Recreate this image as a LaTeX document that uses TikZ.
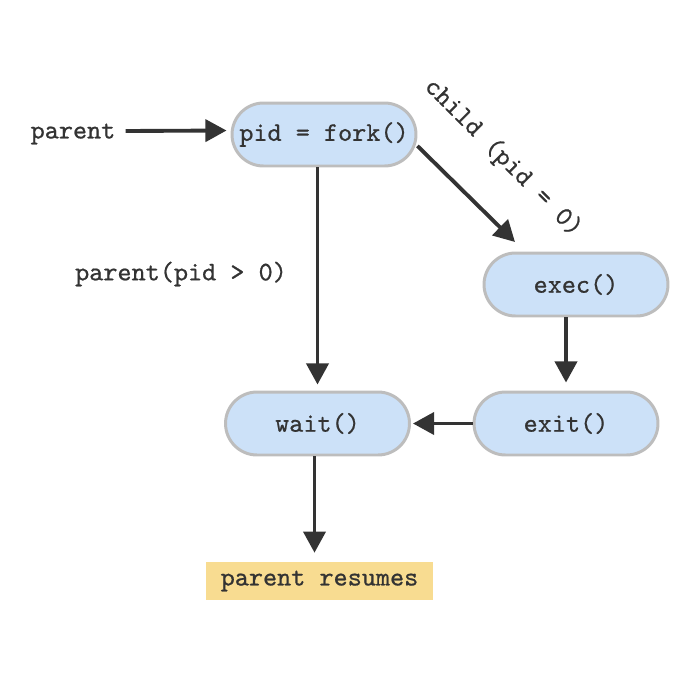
\documentclass[tikz,border=0pt]{standalone}
\usepackage{fontspec}
\newfontfamily\codefont{lmmono10-regular.otf}[FakeBold=0.7]
\usetikzlibrary{arrows.meta,positioning,calc}

\definecolor{pillblue}{HTML}{CCE1F8}
\definecolor{pillrim}{HTML}{BDBDBD}
\definecolor{notegold}{HTML}{F8DC91}
\definecolor{ink}{HTML}{333333}

\begin{document}
\begin{tikzpicture}[
  x=0.02cm, y=-0.02cm,
  call/.style={draw=pillrim, fill=pillblue, line width=1.7pt, rounded corners=0.63cm,
    minimum width=3.68cm, minimum height=1.26cm, inner sep=0pt,
    font=\codefont\fontsize{15.3}{17}\selectfont, text=ink},
  note/.style={fill=notegold, minimum width=4.54cm, minimum height=0.76cm, inner sep=0pt,
    font=\codefont\fontsize{15.3}{17}\selectfont, text=ink},
  lbl/.style={draw=none, inner sep=0pt, font=\codefont\fontsize{15.3}{17}\selectfont, text=ink},
  arr/.style={-{Triangle[length=12pt, width=12.5pt]}, line width=2.2pt, draw=ink}
]
  \useasboundingbox (0,0) rectangle (686,680);
  \node[call] (fork) at (324,134.5) {pid = fork()};
  \node[call] (exec) at (576,284.5) {exec()};
  \node[call] (exit) at (566,423.5) {exit()};
  \node[call] (wait) at (317.5,423.5) {wait()};
  \node[note] (resume) at (319.5,581) {parent resumes};
  \node[lbl] (start) at (73,134) {parent};
  \coordinate (childend) at (515,242);
  \draw[arr] (start.east) ++(10,-3) coordinate (startout) (startout) -- ($(fork.west)+(-4,-4)$);
  \draw[arr, shorten >=6pt*0.567] (wait.north |- fork.south) -- (wait.north);
  \draw[arr] (fork.-7) -- (childend);
  \draw[arr, shorten >=8pt*0.567] (exec.south -| exit.north) -- (exit.north);
  \draw[arr, shorten >=2pt*0.567] (exit.west) -- (wait.east);
  \draw[arr, shorten >=9pt*0.567] (wait.south -| resume.north) ++(-5,0) coordinate (waitout) (waitout) -- ($(resume.north)+(-5,0)$);
  \node[lbl] (yes) at (181,274) {parent(pid > 0)};
  \node[lbl, rotate=-45] (no) at (503,158) {child (pid = 0)};
\end{tikzpicture}
\end{document}
